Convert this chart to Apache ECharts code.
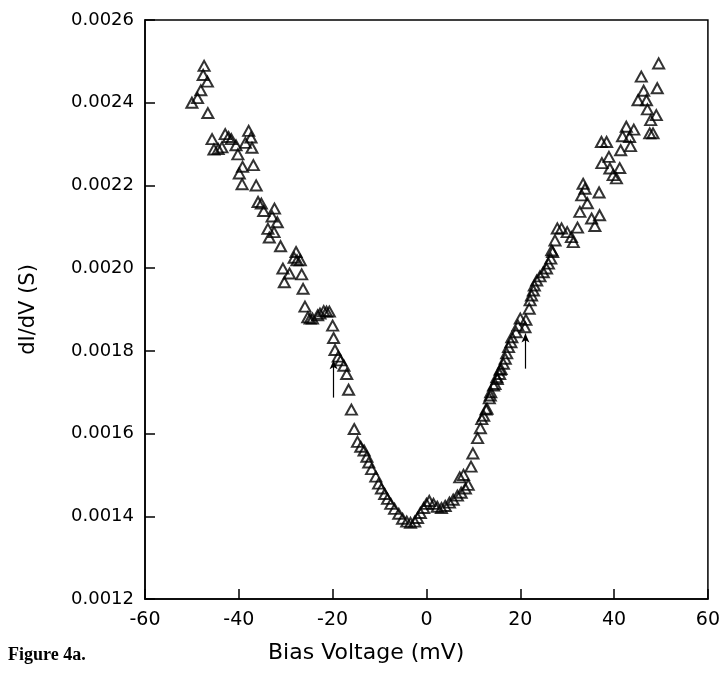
<!DOCTYPE html>
<html>

<head>
    <meta charset="utf-8" />
    <script src="https://cdn.jsdelivr.net/npm/echarts@6/dist/echarts.min.js"></script>
</head>

<body style="margin:0;background:#fff;">
    <div id="main" style="width: 723px;height:676px;"></div>
    <script type="text/javascript">
        // 偏压 (mV)
        const biasMv = [
            -50.0, -48.8, -48.1, -47.6, -47.4, -46.7, -46.6, -45.7, -45.3, -44.4,
            -43.6, -42.9, -42.2, -41.6, -40.6, -40.2, -38.6, -37.9, -37.4, -37.2,
            -39.2, -36.9, -39.9, -39.3, -36.3, -35.9, -35.2, -34.7, -32.4, -32.9,
            -31.8, -33.8, -32.5, -33.5, -31.1, -27.8, -28.2, -26.9, -30.6, -27.6,
            -29.2, -26.6, -30.3, -26.3, -25.9, -25.3, -24.8, -24.3, -23.2, -22.7,
            -21.9, -21.3, -20.7, -20.0, -19.8, -19.5, -18.8, -18.3, -17.6, -17.0,
            -16.6, -16.0, -15.4, -14.7, -14.0, -13.3, -12.7, -12.3, -11.7, -10.8,
            -10.2, -9.6, -8.9, -8.3, -7.6, -6.8, -5.9, -5.1, -4.2, -3.4,
            -2.5, -1.9, -1.3, -0.6, 0.0, 0.6, 1.5, 2.3, 3.2, 4.0,
            4.9, 5.7, 6.6, 7.4, 8.3, 8.9, 7.1, 7.9, 9.5, 9.9,
            10.9, 11.5, 11.8, 12.2, 12.7, 12.9, 13.4, 13.6, 13.7, 14.3,
            14.6, 15.0, 15.1, 15.6, 15.7, 15.9, 16.4, 16.8, 17.1, 17.5,
            18.0, 18.2, 19.1, 19.5, 20.0, 21.0, 21.2, 21.9, 22.1, 22.4,
            22.8, 23.0, 23.5, 24.2, 24.9, 25.6, 26.0, 26.5, 26.9, 26.7,
            27.4, 27.9, 28.8, 30.0, 30.9, 31.3, 32.2, 32.7, 33.1, 33.4,
            33.8, 34.3, 35.2, 35.9, 36.9, 36.8, 37.3, 38.4, 37.4, 38.9,
            39.1, 39.8, 40.5, 41.2, 41.4, 41.8, 42.6, 43.3, 43.5, 44.2,
            45.1, 45.8, 46.3, 46.9, 47.1, 47.8, 47.6, 48.3, 49.0, 49.2,
            49.5
        ];
        // dI/dV (S)
        const conductance = [
            0.002400, 0.002411, 0.002430, 0.002467, 0.002489, 0.002451, 0.002375, 0.002312, 0.002287, 0.002288,
            0.002292, 0.002324, 0.002317, 0.002312, 0.002297, 0.002275, 0.002303, 0.002332, 0.002316, 0.002291,
            0.002245, 0.002249, 0.002229, 0.002203, 0.002200, 0.002160, 0.002156, 0.002138, 0.002144, 0.002125,
            0.002111, 0.002095, 0.002087, 0.002074, 0.002053, 0.002039, 0.002025, 0.002019, 0.001999, 0.002019,
            0.001987, 0.001985, 0.001966, 0.001950, 0.001907, 0.001881, 0.001878, 0.001878, 0.001886, 0.001890,
            0.001896, 0.001895, 0.001895, 0.001861, 0.001831, 0.001802, 0.001786, 0.001777, 0.001764, 0.001744,
            0.001706, 0.001658, 0.001611, 0.001580, 0.001568, 0.001559, 0.001544, 0.001530, 0.001514, 0.001496,
            0.001479, 0.001467, 0.001454, 0.001442, 0.001430, 0.001418, 0.001406, 0.001394, 0.001387, 0.001384,
            0.001387, 0.001396, 0.001408, 0.001420, 0.001430, 0.001437, 0.001430, 0.001423, 0.001420, 0.001425,
            0.001433, 0.001440, 0.001450, 0.001457, 0.001467, 0.001476, 0.001494, 0.001500, 0.001520, 0.001552,
            0.001589, 0.001613, 0.001635, 0.001643, 0.001658, 0.001660, 0.001685, 0.001692, 0.001700, 0.001716,
            0.001720, 0.001736, 0.001732, 0.001744, 0.001754, 0.001756, 0.001769, 0.001781, 0.001794, 0.001809,
            0.001821, 0.001833, 0.001845, 0.001861, 0.001878, 0.001857, 0.001875, 0.001902, 0.001922, 0.001934,
            0.001946, 0.001958, 0.001970, 0.001980, 0.001990, 0.001999, 0.002011, 0.002023, 0.002039, 0.002043,
            0.002067, 0.002096, 0.002096, 0.002087, 0.002075, 0.002063, 0.002098, 0.002136, 0.002176, 0.002204,
            0.002192, 0.002157, 0.002120, 0.002102, 0.002128, 0.002183, 0.002305, 0.002305, 0.002254, 0.002269,
            0.002241, 0.002225, 0.002217, 0.002242, 0.002285, 0.002319, 0.002342, 0.002317, 0.002295, 0.002335,
            0.002406, 0.002463, 0.002429, 0.002406, 0.002384, 0.002358, 0.002326, 0.002326, 0.002370, 0.002435,
            0.002495
        ];
        // 箭头 (x, 起点 y, 终点 y)
        const arrowX = [-19.8, 21.1];
        const arrowFrom = [0.001687, 0.001757];
        const arrowTo = [0.001777, 0.001842];

        const xTicks = [-60, -40, -20, 0, 20, 40, 60];
        const yTicks = [0.0012, 0.0014, 0.0016, 0.0018, 0.0020, 0.0022, 0.0024, 0.0026];

        const points = biasMv.map((v, i) => [v, conductance[i]]);
        const arrows = arrowX.map((x, i) => [{ coord: [x, arrowFrom[i]] }, { coord: [x, arrowTo[i]] }]);

        const myChart = echarts.init(document.getElementById('main'), null, { renderer: 'canvas' });

        const option = {
            animation: false,
            backgroundColor: '#fff',
            grid: {
                left: 145, right: 14, top: 20, bottom: 77,
                show: true, borderColor: '#000', borderWidth: 1.5
            },
            xAxis: {
                type: 'value',
                min: xTicks[0], max: xTicks[xTicks.length - 1], interval: 20,
                splitLine: { show: false },
                axisLine: { onZero: false, lineStyle: { color: '#000', width: 1.5 } },
                axisTick: { inside: true, length: 10, lineStyle: { color: '#000', width: 1.5 } },
                axisLabel: { margin: 12, color: '#000', fontFamily: 'DejaVu Sans', fontSize: 19 }
            },
            yAxis: {
                type: 'value',
                min: yTicks[0], max: yTicks[yTicks.length - 1], interval: 0.0002,
                name: 'dI/dV (S)',
                nameLocation: 'middle',
                nameGap: 106,
                nameTextStyle: { color: '#000', fontFamily: 'DejaVu Sans', fontSize: 21 },
                splitLine: { show: false },
                axisLine: { onZero: false, lineStyle: { color: '#000', width: 1.5 } },
                axisTick: { inside: true, length: 10, lineStyle: { color: '#000', width: 1.5 } },
                axisLabel: {
                    margin: 11, color: '#000', fontFamily: 'DejaVu Sans', fontSize: 18,
                    formatter: v => v.toFixed(4)
                }
            },
            graphic: [
                {
                    type: 'text', left: 268, top: 642,
                    style: { text: 'Bias Voltage (mV)', fill: '#000', font: '22px "DejaVu Sans"' }
                },
                {
                    type: 'text', left: 8, top: 646,
                    style: { text: 'Figure 4a.', fill: '#000', font: 'bold 18px "Liberation Serif"' }
                }
            ],
            series: [{
                type: 'scatter',
                data: points,
                symbol: 'triangle',
                symbolSize: [11, 10],
                itemStyle: { color: 'rgba(255,255,255,0)', borderColor: '#000', borderWidth: 2 },
                markLine: {
                    silent: true,
                    symbol: ['none', 'arrow'],
                    symbolSize: [6, 9],
                    label: { show: false },
                    lineStyle: { color: '#000', width: 1.2, type: 'solid' },
                    data: arrows
                }
            }]
        };

        myChart.setOption(option);
        window.addEventListener('resize', myChart.resize);
    </script>
</body>

</html>
